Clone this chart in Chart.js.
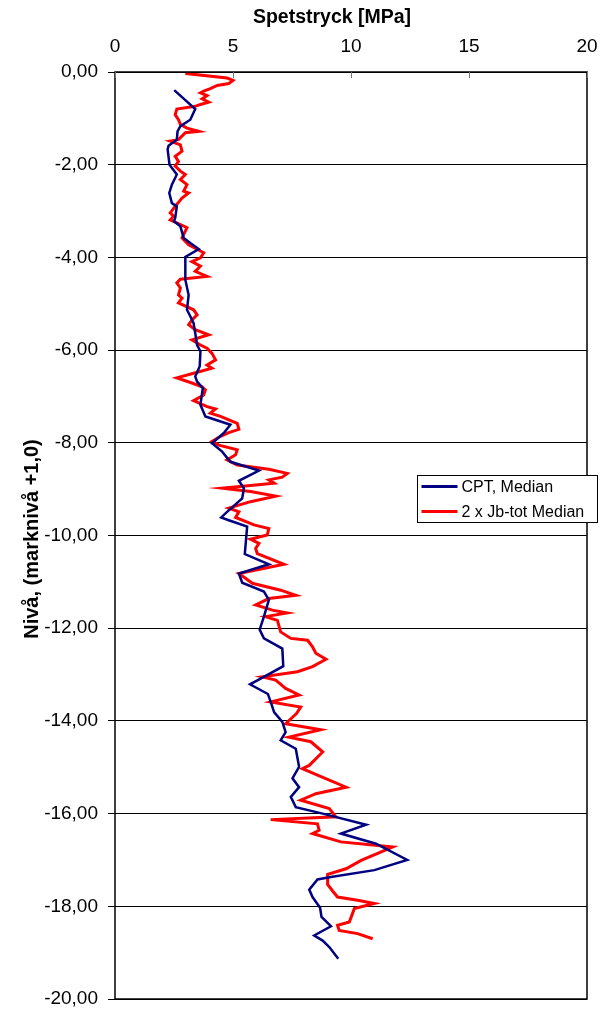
<!DOCTYPE html>
<html>
<head>
<meta charset="utf-8">
<script src="https://cdn.jsdelivr.net/npm/chart.js@4"></script>
<style>
  body { margin: 0; background: #fff; }
</style>
</head>
<body>
<canvas id="chart" width="613" height="1012"></canvas>
<script>
// Spetstryck vs nivå: CPT median and 2 x Jb-tot median
const FONT = "'Liberation Sans', Arial, sans-serif";

const xTicks = [0, 5, 10, 15, 20];
const yTicks = [0, -2, -4, -6, -8, -10, -12, -14, -16, -18, -20];

const cptLabel = 'CPT, Median';
const cptDepth = [-0.39, -0.80, -1.03, -1.17, -1.28, -1.46, -1.59, -1.67, -2.00, -2.21, -2.43, -2.61, -2.83, -2.90, -3.15, -3.22, -3.33, -3.58, -3.69, -3.82, -3.99, -4.48, -4.81, -5.13, -5.27, -5.42, -5.63, -5.89, -6.03, -6.35, -6.57, -6.68, -6.82, -7.18, -7.43, -7.61, -7.79, -8.01, -8.19, -8.41, -8.60, -8.82, -8.98, -9.20, -9.49, -9.61, -9.67, -9.81, -10.10, -10.40, -10.62, -10.82, -11.02, -11.21, -11.39, -11.75, -12.03, -12.22, -12.44, -12.82, -13.05, -13.21, -13.42, -13.62, -13.81, -14.02, -14.24, -14.42, -14.60, -14.99, -15.24, -15.43, -15.64, -15.86, -16.00, -16.24, -16.43, -16.65, -17.00, -17.22, -17.37, -17.42, -17.64, -17.80, -18.03, -18.23, -18.43, -18.63, -18.74, -18.88, -19.13];
const cptValue = [2.51, 3.40, 3.19, 2.77, 2.65, 2.62, 2.27, 2.23, 2.31, 2.62, 2.41, 2.30, 2.41, 2.62, 2.55, 2.50, 2.77, 2.91, 3.19, 3.55, 2.98, 2.98, 3.12, 3.05, 3.19, 3.33, 3.40, 3.48, 3.62, 3.59, 3.40, 3.48, 3.72, 3.62, 3.83, 4.89, 4.61, 4.11, 4.54, 4.89, 6.10, 5.25, 5.46, 5.39, 4.75, 4.50, 4.82, 5.60, 5.55, 5.50, 6.52, 5.25, 5.39, 6.31, 6.52, 6.31, 6.13, 6.31, 7.09, 7.13, 6.31, 5.72, 6.48, 6.62, 6.74, 7.09, 7.23, 7.02, 7.66, 7.80, 7.52, 7.80, 7.45, 7.66, 8.80, 10.64, 9.57, 11.06, 12.38, 10.99, 9.15, 8.58, 8.23, 8.37, 8.69, 8.75, 9.15, 8.44, 8.80, 9.08, 9.46];

const jbLabel = '2 x Jb-tot Median';
const jbDepth = [-0.03, -0.13, -0.18, -0.25, -0.29, -0.36, -0.41, -0.45, -0.51, -0.58, -0.65, -0.70, -0.74, -0.80, -0.92, -1.03, -1.13, -1.21, -1.28, -1.31, -1.46, -1.49, -1.57, -1.71, -1.82, -1.93, -2.03, -2.14, -2.21, -2.32, -2.43, -2.57, -2.61, -2.72, -2.90, -3.04, -3.11, -3.19, -3.29, -3.36, -3.58, -3.73, -3.90, -4.01, -4.09, -4.19, -4.30, -4.41, -4.47, -4.55, -4.66, -4.81, -4.88, -4.98, -5.13, -5.24, -5.35, -5.45, -5.56, -5.67, -5.78, -5.89, -5.96, -6.07, -6.21, -6.32, -6.39, -6.50, -6.60, -6.71, -6.79, -6.86, -6.97, -7.09, -7.22, -7.27, -7.36, -7.43, -7.58, -7.71, -7.78, -7.88, -7.97, -8.05, -8.15, -8.26, -8.37, -8.48, -8.57, -8.66, -8.74, -8.80, -8.87, -8.98, -9.05, -9.15, -9.27, -9.41, -9.49, -9.61, -9.77, -9.85, -9.99, -10.08, -10.17, -10.28, -10.39, -10.62, -10.82, -11.03, -11.18, -11.29, -11.36, -11.50, -11.61, -11.67, -11.75, -11.83, -12.08, -12.22, -12.26, -12.40, -12.54, -12.67, -12.83, -12.94, -13.05, -13.12, -13.30, -13.44, -13.59, -13.70, -13.84, -14.06, -14.19, -14.35, -14.45, -14.67, -14.96, -15.03, -15.17, -15.43, -15.57, -15.71, -15.89, -16.07, -16.13, -16.22, -16.36, -16.43, -16.61, -16.72, -16.86, -17.01, -17.19, -17.31, -17.53, -17.67, -17.80, -17.87, -17.94, -18.05, -18.34, -18.41, -18.52, -18.59, -18.70];
const jbValue = [2.98, 4.75, 5.00, 4.82, 4.33, 4.04, 3.76, 3.62, 3.90, 3.69, 3.97, 3.62, 3.40, 2.62, 2.55, 2.69, 2.77, 3.05, 3.55, 2.98, 2.69, 2.34, 2.77, 2.84, 2.55, 2.69, 2.55, 2.77, 2.98, 2.77, 3.05, 2.91, 3.12, 2.84, 2.55, 2.34, 2.48, 2.34, 2.77, 3.05, 2.84, 3.12, 3.76, 3.62, 3.26, 3.62, 3.40, 3.90, 2.77, 2.62, 2.77, 2.69, 2.84, 2.69, 3.33, 3.48, 3.26, 3.12, 3.40, 3.97, 3.26, 3.62, 3.90, 4.11, 4.26, 3.90, 4.11, 3.33, 2.62, 3.26, 3.69, 3.83, 3.76, 3.33, 3.90, 4.26, 4.04, 4.47, 5.18, 5.25, 4.82, 4.40, 4.11, 4.40, 5.18, 5.11, 4.75, 5.18, 6.52, 7.30, 7.09, 6.52, 6.74, 4.54, 5.74, 6.81, 5.74, 4.82, 5.25, 5.11, 5.89, 6.52, 6.45, 5.74, 6.10, 5.96, 6.03, 7.16, 5.25, 5.82, 7.02, 7.66, 6.52, 5.96, 6.67, 7.30, 6.38, 6.88, 7.02, 7.45, 8.16, 8.37, 8.51, 8.94, 8.37, 7.73, 6.24, 6.81, 7.23, 7.80, 6.60, 7.87, 7.69, 7.23, 8.72, 7.37, 8.30, 8.80, 8.23, 7.94, 8.58, 9.79, 8.51, 7.87, 9.08, 9.36, 6.60, 8.58, 8.65, 8.37, 9.57, 11.77, 11.13, 10.43, 9.79, 9.01, 9.01, 9.22, 9.43, 10.28, 10.99, 10.14, 9.93, 9.43, 9.50, 10.28, 10.92];

const toPoints = (depth, value) => depth.map((d, i) => ({ x: value[i], y: d }));

// plot frame, small inside ticks on the top axis, axis titles and the legend box
const decorations = {
    id: 'decorations',
    afterDraw(chart) {
        const { ctx, chartArea: a, scales } = chart;
        ctx.save();
        ctx.strokeStyle = '#000';
        ctx.lineWidth = 1.5;
        ctx.strokeRect(a.left, a.top, a.right - a.left, a.bottom - a.top);

        ctx.strokeStyle = '#777';
        ctx.lineWidth = 1;
        xTicks.forEach(v => {
            const px = Math.round(scales.x.getPixelForValue(v)) + 0.5;
            ctx.beginPath();
            ctx.moveTo(px, a.top);
            ctx.lineTo(px, a.top + 6);
            ctx.stroke();
        });

        ctx.fillStyle = '#000';
        ctx.textAlign = 'center';
        ctx.textBaseline = 'middle';
        ctx.font = 'bold 19.5px ' + FONT;
        ctx.fillText('Spetstryck [MPa]', 332, 18);

        ctx.save();
        ctx.translate(32, 539);
        ctx.rotate(-Math.PI / 2);
        ctx.font = 'bold 20px ' + FONT;
        ctx.fillText('Nivå, (marknivå +1,0)', 0, 0);
        ctx.restore();

        // legend
        const lx = 417.5, ly = 475.5, lw = 180, lh = 47;
        ctx.fillStyle = '#fff';
        ctx.fillRect(lx, ly, lw, lh);
        ctx.strokeStyle = '#000';
        ctx.lineWidth = 1;
        ctx.strokeRect(lx, ly, lw, lh);
        ctx.font = '16px ' + FONT;
        ctx.textAlign = 'left';
        chart.data.datasets.forEach((ds, i) => {
            const y = ly + 11 + i * 25;
            ctx.strokeStyle = ds.borderColor;
            ctx.lineWidth = 3;
            ctx.beginPath();
            ctx.moveTo(lx + 4, y);
            ctx.lineTo(lx + 40, y);
            ctx.stroke();
            ctx.fillStyle = '#000';
            ctx.fillText(ds.label, lx + 44, y + 1);
        });
        ctx.restore();
    }
};

new Chart(document.getElementById('chart'), {
    type: 'line',
    data: {
        datasets: [{
            label: cptLabel,
            data: toPoints(cptDepth, cptValue),
            borderColor: '#000080',
            borderWidth: 2.5,
            pointRadius: 0,
            tension: 0
        }, {
            label: jbLabel,
            data: toPoints(jbDepth, jbValue),
            borderColor: '#ff0000',
            borderWidth: 3,
            pointRadius: 0,
            tension: 0
        }]
    },
    options: {
        responsive: false,
        animation: false,
        indexAxis: 'y',
        layout: { padding: { left: 0, top: 0, right: 26, bottom: 13 } },
        plugins: {
            legend: { display: false },
            tooltip: { enabled: false }
        },
        scales: {
            x: {
                type: 'linear',
                position: 'top',
                min: 0,
                max: 20,
                afterBuildTicks: scale => { scale.ticks = xTicks.map(v => ({ value: v })); },
                afterFit: scale => { scale.height = 72; },
                grid: { display: false },
                border: { display: false },
                ticks: {
                    color: '#000',
                    padding: 6,
                    maxRotation: 0,
                    font: { family: FONT, size: 19 }
                }
            },
            y: {
                type: 'linear',
                min: -20,
                max: 0,
                afterBuildTicks: scale => { scale.ticks = yTicks.map(v => ({ value: v })); },
                afterFit: scale => {
                    scale.width = 115;
                    scale.paddingTop = 0;
                    scale.paddingBottom = 0;
                },
                grid: { color: '#000', lineWidth: 1, tickLength: 7 },
                border: { display: false },
                ticks: {
                    color: '#000',
                    padding: 10,
                    font: { family: FONT, size: 19 },
                    callback: v => (v === 0 ? 0 : v).toFixed(2).replace('.', ',')
                }
            }
        }
    },
    plugins: [decorations]
});
</script>
</body>
</html>
